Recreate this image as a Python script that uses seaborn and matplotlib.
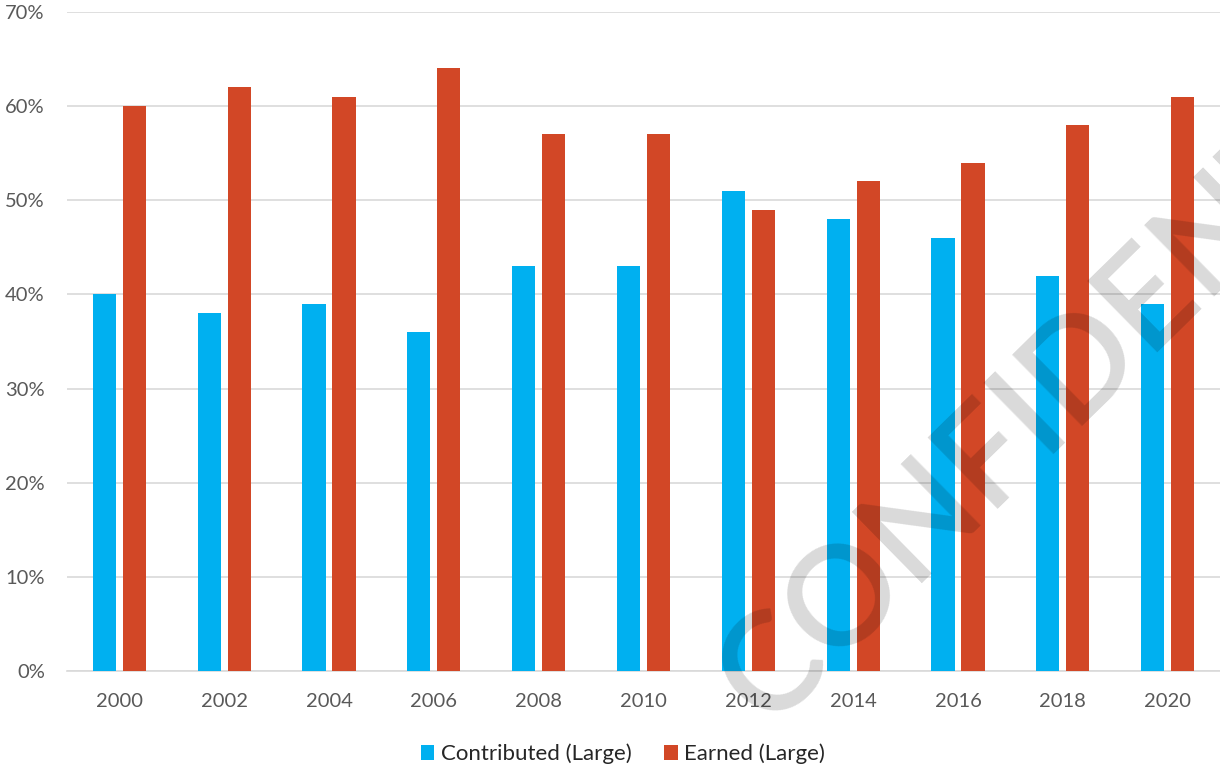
import numpy as np
import pandas as pd
import matplotlib
matplotlib.use("Agg")
import matplotlib.pyplot as plt
import seaborn as sns
from matplotlib.textpath import TextPath
from matplotlib.font_manager import FontProperties

years = ["2000", "2002", "2004", "2006", "2008", "2010", "2012", "2014", "2016", "2018", "2020"]
contributed = [40, 38, 39, 36, 43, 43, 51, 48, 46, 42, 39]
earned = [60, 62, 61, 64, 57, 57, 49, 52, 54, 58, 61]
series_names = ["Contributed (Large)", "Earned (Large)"]
y_ticks = [0, 10, 20, 30, 40, 50, 60, 70]
watermark = "CONFIDENTIAL"

df = pd.DataFrame({
    "year": years * 2,
    "value": [v / 100 for v in contributed] + [v / 100 for v in earned],
    "series": [series_names[0]] * len(years) + [series_names[1]] * len(years),
})

sns.set_theme(style="white")
plt.rcParams["font.family"] = ["Lato", "DejaVu Sans"]

W, H = 1220, 767
fig = plt.figure(figsize=(W / 100, H / 100), dpi=100)
ax = fig.add_axes([67 / W, 1 - 671 / H, 1 - 67 / W, (671 - 12) / H])

sns.barplot(data=df, x="year", y="value", hue="series", hue_order=series_names,
            palette=["#00B0F0", "#D24726"], saturation=1, width=0.573, gap=0.23,
            linewidth=0, ax=ax, zorder=3, legend=True)

ax.set_ylim(0, 0.70)
ax.set_xlim(-0.5, len(years) - 0.5)
ax.set_yticks([t / 100 for t in y_ticks])
ax.set_yticklabels([f"{t}%" for t in y_ticks])
ax.yaxis.grid(True, color="#D9D9D9", linewidth=1.2, zorder=0)
ax.set_axisbelow(True)
for s in ["left", "right", "top"]:
    ax.spines[s].set_visible(False)
ax.spines["bottom"].set_color("#D9D9D9")
ax.spines["bottom"].set_linewidth(1.2)
ax.tick_params(axis="both", length=0, labelsize=14.5, labelcolor="#595959")
ax.tick_params(axis="y", pad=16)
ax.tick_params(axis="x", pad=16)
ax.set_xlabel("")
ax.set_ylabel("")

handles, labels = ax.get_legend_handles_labels()
ax.get_legend().remove()
fig.legend(handles, labels, loc="center", bbox_to_anchor=(623 / W, 1 - 754 / H),
           ncol=2, frameon=False, fontsize=16, handlelength=0.6, handleheight=0.6,
           handletextpad=0.3, columnspacing=1.48, labelcolor="#262626")

# watermark: place so that the "C" and "D" glyph centres land where they are in the reference
fp = FontProperties(family=["Lato", "DejaVu Sans"], weight="semibold")
ext_c = TextPath((0, 0), "C", size=1, prop=fp).get_extents()
ext_d = TextPath((0, 0), "D", size=1, prop=fp).get_extents()
ext_pre = TextPath((0, 0), watermark[:6], size=1, prop=fp).get_extents()
c_cx = ext_c.x0 + ext_c.width / 2
c_cy = ext_c.y0 + ext_c.height / 2
d_cx = ext_pre.x1 - ext_d.width / 2
c_pos = np.array([767.0, H - 660.0])
d_pos = np.array([1078.0, H - 355.0])
vec = d_pos - c_pos
theta = np.arctan2(vec[1], vec[0])
dist_px = np.hypot(*vec)
size_px = dist_px / (d_cx - c_cx)
fontsize = size_px * 72 / 100
local = np.array([c_cx, c_cy]) * size_px
rot = np.array([[np.cos(theta), -np.sin(theta)], [np.sin(theta), np.cos(theta)]])
anchor = c_pos - rot @ local
fig.text(anchor[0] / W, anchor[1] / H, watermark, fontproperties=fp, fontsize=fontsize,
         rotation=np.degrees(theta), rotation_mode="anchor", ha="left", va="baseline",
         color="black", alpha=0.15, zorder=10, transform=fig.transFigure)

fig.savefig("out.png", dpi=100)
